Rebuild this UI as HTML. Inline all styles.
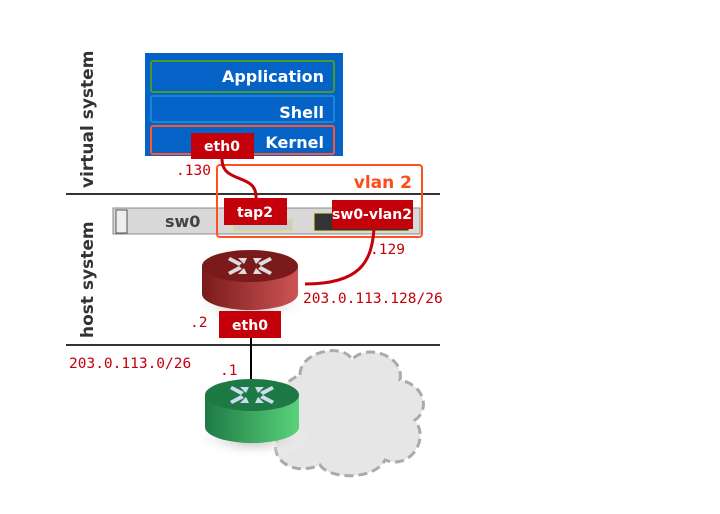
<!DOCTYPE html>
<html><head><meta charset="utf-8"><style>
html,body{margin:0;padding:0;background:#fff;}
svg{display:block;}
text{font-family:"DejaVu Sans","Liberation Sans",sans-serif;font-weight:bold;}
.mono{font-family:"DejaVu Sans Mono","Liberation Mono",monospace;font-weight:normal;fill:#c4000a;font-size:14.5px;}
</style></head><body>
<svg width="720" height="514" viewBox="0 0 720 514" xmlns="http://www.w3.org/2000/svg">
<defs>
<linearGradient id="rg" x1="0" x2="1"><stop offset="0" stop-color="#7a1a1a"/><stop offset="1" stop-color="#cc5555"/></linearGradient>
<linearGradient id="gg" x1="0" x2="1"><stop offset="0" stop-color="#1e7a45"/><stop offset="1" stop-color="#5ad27a"/></linearGradient>
<radialGradient id="sh"><stop offset="0" stop-color="#aaa"/><stop offset="1" stop-color="#fff" stop-opacity="0"/></radialGradient>
<g id="arr">
<polygon points="-20,-9 -8,-3 -11,0 -22,-6" />
<polygon points="-6,-2 -3,-8 -12,-8" />
</g>
</defs>
<text transform="translate(93,188) rotate(-90)" font-size="17" fill="#333">virtual system</text>
<text transform="translate(93,338) rotate(-90)" font-size="17" fill="#333">host system</text>
<line x1="66" y1="194" x2="440" y2="194" stroke="#333" stroke-width="2"/>
<line x1="66" y1="345" x2="440" y2="345" stroke="#333" stroke-width="2"/>
<rect x="145" y="53" width="198" height="103" fill="#0563c8"/>
<rect x="151" y="61" width="183" height="31" rx="2" fill="#0563c8" stroke="#4a9a2a" stroke-width="2"/>
<rect x="151" y="96" width="183" height="26" rx="2" fill="#0563c8" stroke="#1a86d8" stroke-width="2"/>
<rect x="151" y="126" width="183" height="28" rx="2" fill="#0563c8" stroke="#ff5530" stroke-width="2"/>
<text x="324" y="82" font-size="16" fill="#fff" text-anchor="end">Application</text>
<text x="324" y="118" font-size="16" fill="#fff" text-anchor="end">Shell</text>
<text x="324" y="148" font-size="16" fill="#fff" text-anchor="end">Kernel</text>
<rect x="113" y="208" width="307" height="26" fill="#d8d8d8" stroke="#888"/>
<rect x="116" y="210" width="11" height="23" fill="#eee" stroke="#555"/>
<text x="165" y="227" font-size="16" fill="#444">sw0</text>
<rect x="233" y="219" width="60" height="12" fill="#ccc" stroke="#e8e070"/>
<rect x="314" y="213" width="95" height="18" fill="#333" stroke="#e8e070"/>
<rect x="217" y="165" width="205" height="72" rx="3" fill="none" stroke="#ff5020" stroke-width="2"/>
<text x="412" y="188" font-size="17" fill="#ff4a1a" text-anchor="end">vlan 2</text>
<path d="M222,159 C222,185 258,172 256,199" fill="none" stroke="#c4000a" stroke-width="3"/>
<path d="M374,228 C372,262 360,284 305,284" fill="none" stroke="#c4000a" stroke-width="3"/>
<line x1="251" y1="338" x2="251" y2="380" stroke="#000" stroke-width="2"/>
<rect x="191" y="133" width="63" height="26" fill="#c4000a"/>
<text x="222" y="151" font-size="14" fill="#fff" text-anchor="middle">eth0</text>
<rect x="224" y="198" width="63" height="27" fill="#c4000a"/>
<text x="255" y="217" font-size="14" fill="#fff" text-anchor="middle">tap2</text>
<rect x="332" y="200" width="81" height="29" fill="#c4000a"/>
<text x="372" y="219" font-size="14" fill="#fff" text-anchor="middle">sw0-vlan2</text>
<text x="176" y="175" class="mono">.130</text>
<text x="370" y="254" class="mono">.129</text>
<ellipse cx="250" cy="305" rx="58" ry="18" fill="url(#sh)"/>
<path d="M202,266 L202,294 A48,16 0 0 0 298,294 L298,266 Z" fill="url(#rg)"/>
<ellipse cx="250" cy="266" rx="48" ry="16" fill="#7a1a1a"/>
<g fill="#ddd" transform="translate(250,266)">
<use href="#arr"/><use href="#arr" transform="scale(-1,1)"/><use href="#arr" transform="scale(1,-1)"/><use href="#arr" transform="scale(-1,-1)"/>
</g>
<text x="303" y="303" class="mono">203.0.113.128/26</text>
<text x="190" y="327" class="mono">.2</text>
<rect x="219" y="311" width="62" height="27" fill="#c4000a"/>
<text x="250" y="330" font-size="14" fill="#fff" text-anchor="middle">eth0</text>
<text x="69" y="368" class="mono">203.0.113.0/26</text>
<text x="220" y="375" class="mono">.1</text>
<path d="M300,375 C300,350 345,343 352,360 C365,343 405,355 400,380 C425,385 430,410 415,420 C430,440 410,470 385,460 C375,480 330,480 320,465 C290,478 265,455 280,435 C260,420 275,385 300,375 Z" fill="#e6e6e6" stroke="#aaa" stroke-width="3" stroke-dasharray="9,5"/>
<ellipse cx="252" cy="438" rx="58" ry="20" fill="url(#sh)"/>
<path d="M205,395 L205,427 A47,16 0 0 0 299,427 L299,395 Z" fill="url(#gg)"/>
<ellipse cx="252" cy="395" rx="47" ry="16" fill="#1e7a45"/>
<g fill="#cde" transform="translate(252,395)">
<use href="#arr"/><use href="#arr" transform="scale(-1,1)"/><use href="#arr" transform="scale(1,-1)"/><use href="#arr" transform="scale(-1,-1)"/>
</g>
</svg>
</body></html>
